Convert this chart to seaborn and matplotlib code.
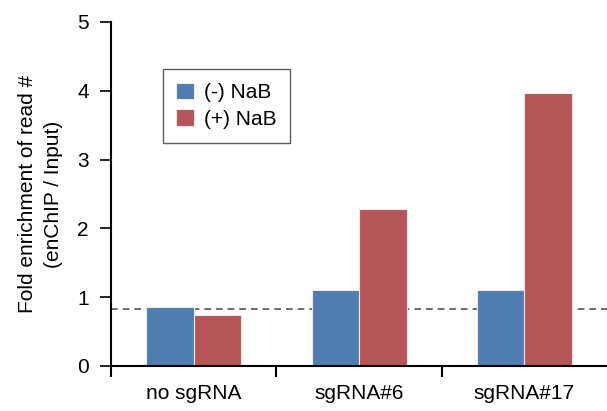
import matplotlib
matplotlib.use("Agg")
import matplotlib.pyplot as plt
import seaborn as sns
import pandas as pd
from matplotlib.ticker import FixedLocator

categories = ["no sgRNA", "sgRNA#6", "sgRNA#17"]
series_names = ["(-) NaB", "(+) NaB"]
minus_nab = [0.86, 1.10, 1.11]
plus_nab = [0.74, 2.28, 3.97]
baseline = 0.83
y_ticks = [0, 1, 2, 3, 4, 5]

df = pd.DataFrame({
    "group": categories * 2,
    "cond": [series_names[0]] * 3 + [series_names[1]] * 3,
    "value": minus_nab + plus_nab,
})

sns.set_style("white")
plt.rcParams["font.family"] = ["Liberation Sans", "DejaVu Sans"]
plt.rcParams["text.color"] = "black"
plt.rcParams["axes.labelcolor"] = "black"
plt.rcParams["xtick.color"] = "black"
plt.rcParams["ytick.color"] = "black"

fig = plt.figure(figsize=(6.07, 4.11), dpi=100)
ax = fig.add_axes([0.183, 0.1095, 0.817, 0.837])

palette = {series_names[0]: "#4f7db0", series_names[1]: "#b55557"}
sns.barplot(data=df, x="group", y="value", hue="cond", order=categories,
            hue_order=series_names, palette=palette, width=0.575,
            edgecolor="#f2e6e6", linewidth=0.8, saturation=1, ax=ax, errorbar=None)

ax.axhline(baseline, color="#555555", linestyle=(0, (4, 3)), linewidth=1.2, zorder=0)

ax.set_xlim(-0.5, 2.5)
ax.set_ylim(0, 5)
ax.set_yticks(y_ticks)
ax.set_yticklabels([str(t) for t in y_ticks], fontsize=15)
ax.set_xticks(range(len(categories)))
ax.set_xticklabels(categories, fontsize=15)
ax.tick_params(axis="x", which="major", length=0, pad=13)
ax.xaxis.set_minor_locator(FixedLocator([-0.5, 0.5, 1.5]))
ax.tick_params(axis="x", which="minor", length=8, width=1.5, direction="out", color="black", bottom=True)
ax.tick_params(axis="y", length=8, width=1.2, direction="out", color="black", left=True, pad=8)

for s in ["top", "right"]:
    ax.spines[s].set_visible(False)
for s in ["left", "bottom"]:
    ax.spines[s].set_linewidth(1.5)
    ax.spines[s].set_color("black")

ax.set_xlabel("")
ax.set_ylabel("Fold enrichment of read #\n(enChIP / Input)", fontsize=15, labelpad=10,
              linespacing=1.45, color="black")

leg = ax.legend(loc="upper left", bbox_to_anchor=(0.104, 0.863), fontsize=15,
                frameon=True, fancybox=False, edgecolor="#333333", handlelength=0.85,
                handleheight=0.85, handletextpad=0.5, borderpad=0.65, labelspacing=0.35,
                borderaxespad=0)
leg.get_frame().set_linewidth(1.0)

fig.savefig("out.png", dpi=100)
